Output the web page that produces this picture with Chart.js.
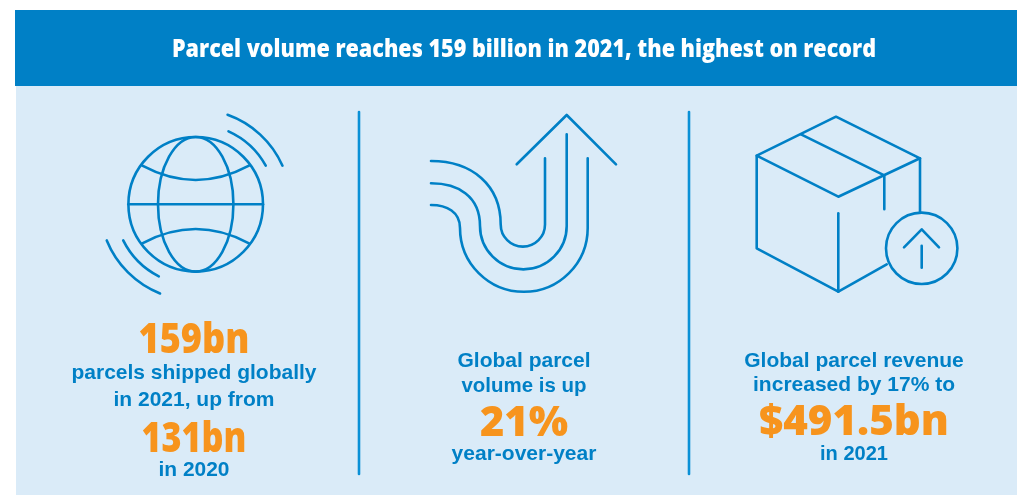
<!DOCTYPE html>
<html>
<head>
<meta charset="utf-8">
<style>
html,body{margin:0;padding:0;background:#fff;overflow:hidden}
canvas{display:block}
</style>
<script src="https://cdn.jsdelivr.net/npm/chart.js@4/dist/chart.umd.js"></script>
</head>
<body>
<canvas id="c" width="1017" height="495"></canvas>
<script>
// Headline figures
const years = [2020, 2021];
const parcelVolumeBn = [131, 159];
const volumeGrowthPct = [21];
const revenueBn = [491.5];
const revenueGrowthPct = [17];
const columnIndex = [0, 1, 2];

const BLUE = '#0080C6', RULE = '#0A90D6', PALE = '#DAEBF8', ORANGE = '#F7941D', WHITE = '#FFFFFF';
const BODY = 'bold 21px "Liberation Sans"';
const BIG = '800 42px "Open Sans"';

const headline = `Parcel volume reaches ${parcelVolumeBn[1]} billion in ${years[1]}, the highest on record`;

// One stack of text per column: [text, font, colour, baseline y, fitted width]
const columnText = [
  [
    [`${parcelVolumeBn[1]}bn`, BIG, ORANGE, 353, 111],
    ['parcels shipped globally', BODY, BLUE, 379, 246],
    [`in ${years[1]}, up from`, BODY, BLUE, 406, 161],
    [`${parcelVolumeBn[0]}bn`, BIG, ORANGE, 452, 105],
    [`in ${years[0]}`, BODY, BLUE, 476, 71]
  ],
  [
    ['Global parcel', BODY, BLUE, 367, 134],
    ['volume is up', BODY, BLUE, 392, 125],
    [`${volumeGrowthPct[0]}%`, BIG, ORANGE, 436, 88],
    ['year-over-year', BODY, BLUE, 460, 148]
  ],
  [
    ['Global parcel revenue', BODY, BLUE, 367, 221],
    [`increased by ${revenueGrowthPct[0]}% to`, BODY, BLUE, 391, 207],
    [`$${revenueBn[0]}bn`, BIG, ORANGE, 435, 191],
    [`in ${years[1]}`, BODY, BLUE, 460, 68]
  ]
];

function stroke(ctx, draw) {
  ctx.beginPath();
  draw();
  ctx.stroke();
}

function line(ctx, pts) {
  stroke(ctx, () => {
    pts.forEach((p, i) => i ? ctx.lineTo(p[0], p[1]) : ctx.moveTo(p[0], p[1]));
  });
}

const rad = d => d * Math.PI / 180;

function drawGlobe(ctx) {
  const cx = 195.7, cy = 204.3, r = 67.3;
  stroke(ctx, () => ctx.arc(cx, cy, r, 0, Math.PI * 2));
  stroke(ctx, () => ctx.ellipse(cx, cy, 37.7, r, 0, 0, Math.PI * 2));
  line(ctx, [[cx - r, cy], [cx + r, cy]]);
  stroke(ctx, () => { ctx.moveTo(142.3, 165.7); ctx.quadraticCurveTo(cx, 194.3, 249, 165.7); });
  stroke(ctx, () => { ctx.moveTo(142.3, 243.3); ctx.quadraticCurveTo(cx, 214.7, 249, 243.3); });
  stroke(ctx, () => ctx.arc(cx, cy, 95, rad(-70.4), rad(-24)));
  stroke(ctx, () => ctx.arc(cx, cy, 80, rad(-65.8), rad(-28.9)));
  stroke(ctx, () => ctx.arc(cx, cy, 96, rad(111.8), rad(157.9)));
  stroke(ctx, () => ctx.arc(cx, cy, 81, rad(117.1), rad(153.5)));
}

function drawArrow(ctx) {
  line(ctx, [[516.7, 164.3], [566.7, 115], [616, 164.3]]);
  // inner lane
  stroke(ctx, () => {
    ctx.moveTo(431, 161);
    ctx.bezierCurveTo(472, 161, 500.7, 185, 500.7, 224.5);
    ctx.arc(522.85, 224.5, 22.15, Math.PI, 0, true);
    ctx.lineTo(545, 158.3);
  });
  // middle lane
  stroke(ctx, () => {
    ctx.moveTo(431, 183.3);
    ctx.bezierCurveTo(458, 183.3, 480, 196, 480, 226);
    ctx.arc(523.35, 226, 43.35, Math.PI, 0, true);
    ctx.lineTo(566.7, 134.3);
  });
  // outer lane
  stroke(ctx, () => {
    ctx.moveTo(431, 205);
    ctx.bezierCurveTo(447, 205, 460, 212, 460, 227.9);
    ctx.arc(523.85, 227.9, 63.85, Math.PI, 0, true);
    ctx.lineTo(587.7, 158.3);
  });
}

function drawBox(ctx) {
  line(ctx, [[838.3, 196.7], [756.7, 155.7], [836, 116.7], [920, 158.3], [838.3, 196.7]]);
  line(ctx, [[801, 134.3], [884.3, 175.3], [884.3, 209.3]]);
  line(ctx, [[756.7, 155.7], [756.7, 248.3], [838.3, 291.7], [886.7, 264.3]]);
  line(ctx, [[838.3, 213.3], [838.3, 291.7]]);
  line(ctx, [[920, 158.3], [920, 212]]);
  stroke(ctx, () => ctx.arc(921.7, 248.3, 35.7, 0, Math.PI * 2));
  line(ctx, [[904, 247.3], [921.7, 229.3], [939, 247.3]]);
  line(ctx, [[921.7, 245.7], [921.7, 267.7]]);
}

// Panel, header band, icons and dividers sit behind the text
const infographic = {
  id: 'infographic',
  beforeDraw(chart) {
    const ctx = chart.ctx;
    ctx.save();
    ctx.fillStyle = WHITE;
    ctx.fillRect(0, 0, 1017, 495);
    ctx.fillStyle = PALE;
    ctx.fillRect(16, 86, 1001, 409);
    ctx.fillStyle = BLUE;
    ctx.fillRect(15, 10, 1002, 76);

    ctx.strokeStyle = BLUE;
    ctx.lineWidth = 2.6;
    ctx.lineCap = 'round';
    ctx.lineJoin = 'round';
    drawGlobe(ctx);
    drawArrow(ctx);
    drawBox(ctx);
    ctx.strokeStyle = RULE;
    line(ctx, [[359, 112], [359, 474]]);
    line(ctx, [[689, 112], [689, 474]]);
    ctx.restore();
  },
  afterDraw(chart) {
    const ctx = chart.ctx;
    const x = chart.scales.x, y = chart.scales.y;
    ctx.save();
    ctx.textAlign = 'center';
    ctx.textBaseline = 'alphabetic';
    ctx.font = '800 24px "Open Sans"';
    ctx.fillStyle = WHITE;
    ctx.fillText(headline, 524, y.getPixelForValue(57), 704);
    columnText.forEach((rows, col) => {
      const cx = x.getPixelForValue(columnIndex[col]);
      rows.forEach(([text, font, colour, baseline, width]) => {
        ctx.font = font;
        ctx.fillStyle = colour;
        ctx.fillText(text, cx, y.getPixelForValue(baseline), width);
      });
    });
    ctx.restore();
  }
};

new Chart(document.getElementById('c'), {
  type: 'scatter',
  data: {
    datasets: [{
      label: 'Columns',
      data: columnIndex.map(i => ({ x: i, y: 0 })),
      pointRadius: 0,
      pointHoverRadius: 0
    }]
  },
  options: {
    responsive: false,
    animation: false,
    events: [],
    layout: { padding: 0 },
    plugins: { legend: { display: false }, tooltip: { enabled: false }, title: { display: false } },
    scales: {
      // one unit per column, with column centres 330px apart
      x: { type: 'linear', display: false, min: -194 / 330, max: 823 / 330 },
      y: { type: 'linear', display: false, min: 0, max: 495, reverse: true }
    }
  },
  plugins: [infographic]
});
</script>
</body>
</html>
